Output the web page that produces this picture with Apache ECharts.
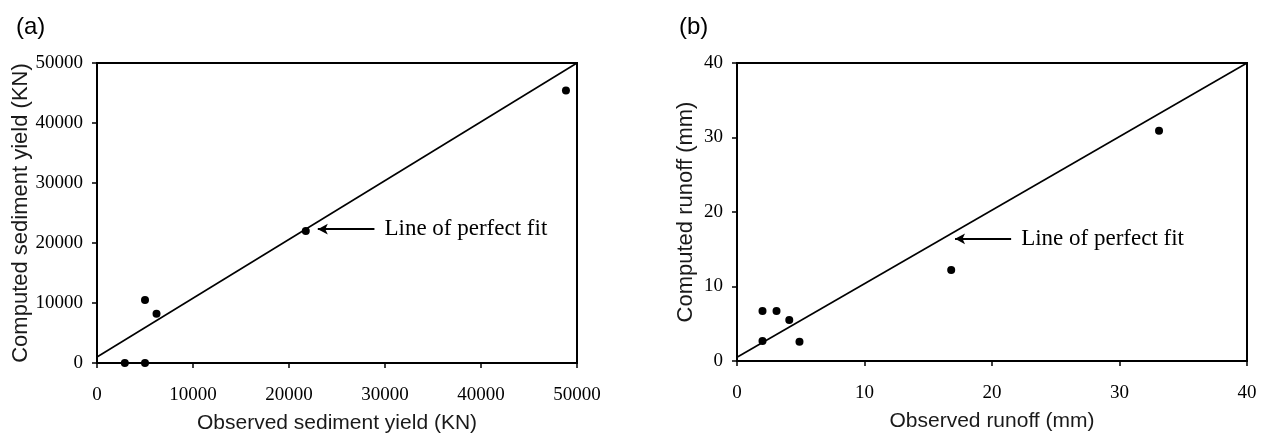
<!DOCTYPE html>
<html>
<head>
<meta charset="utf-8">
<script src="https://cdn.jsdelivr.net/npm/echarts@6/dist/echarts.min.js"></script>
<style>
html,body{margin:0;padding:0;background:#fff;}
#chart{width:1274px;height:444px;}
</style>
</head>
<body>
<div id="chart"></div>
<script>
// Panel (a): sediment yield (KN)
const sedObserved = [2900, 5000, 5000, 6200, 21750, 48850];
const sedComputed = [0, 0, 10500, 8200, 22000, 45400];
const sedFitLine = [[0, 1000], [50000, 50000]];
const sedArrow = {tail: [28900, 22300], tip: [23000, 22300]};

// Panel (b): runoff (mm)
const runObserved = [2.0, 3.1, 4.1, 2.0, 4.9, 16.8, 33.1];
const runComputed = [6.7, 6.7, 5.5, 2.7, 2.6, 12.2, 30.9];
const runFitLine = [[0, 0.5], [40, 40]];
const runArrow = {tail: [21.5, 16.4], tip: [17.1, 16.4]};

const panelTitles = ['(a)', '(b)'];
const xNames = ['Observed sediment yield (KN)', 'Observed runoff (mm)'];
const yNames = ['Computed sediment yield (KN)', 'Computed runoff (mm)'];
const arrowText = 'Line of perfect fit';

const tickFont = {fontFamily: 'Liberation Serif', fontSize: 19, color: '#000', formatter: v => String(v)};
const nameFontX = {fontFamily: 'Liberation Sans', fontSize: 21, color: '#1a1a1a'};
const nameFontY = {fontFamily: 'Liberation Sans', fontSize: 22, color: '#1a1a1a'};

function zip(a, b) { return a.map((v, i) => [v, b[i]]); }

function xAxis(idx, max, interval) {
  return {
    gridIndex: idx, type: 'value', min: 0, max: max, interval: interval,
    name: xNames[idx], nameLocation: 'middle', nameGap: 50, nameTextStyle: nameFontX,
    axisLine: {show: true, onZero: false, lineStyle: {color: '#000', width: 2}},
    axisTick: {show: true, inside: false, length: 5, lineStyle: {color: '#000', width: 1.5}},
    axisLabel: Object.assign({margin: 23}, tickFont),
    splitLine: {show: false}
  };
}
function yAxis(idx, max, interval, gap) {
  return {
    gridIndex: idx, type: 'value', min: 0, max: max, interval: interval,
    name: yNames[idx], nameLocation: 'middle', nameGap: gap, nameTextStyle: nameFontY,
    axisLine: {show: true, onZero: false, lineStyle: {color: '#000', width: 2}},
    axisTick: {show: true, inside: false, length: 5, lineStyle: {color: '#000', width: 1.5}},
    axisLabel: Object.assign({margin: 14}, tickFont),
    splitLine: {show: false}
  };
}
function arrowMark(arrow) {
  return {
    silent: true,
    symbol: ['none', 'arrow'],
    symbolSize: [8, 10],
    lineStyle: {color: '#000', width: 2, type: 'solid'},
    label: {show: true, position: 'start', distance: 10, formatter: arrowText,
            fontFamily: 'Liberation Serif', fontSize: 23, color: '#000'},
    data: [[{coord: arrow.tail}, {coord: arrow.tip}]]
  };
}

const chart = echarts.init(document.getElementById('chart'), null, {renderer: 'canvas'});
chart.setOption({
  backgroundColor: '#fff',
  animation: false,
  title: [
    {text: panelTitles[0], left: 11, top: 10, textStyle: {fontFamily: 'Liberation Sans', fontSize: 24, fontWeight: 'normal', color: '#000'}},
    {text: panelTitles[1], left: 674, top: 10, textStyle: {fontFamily: 'Liberation Sans', fontSize: 24, fontWeight: 'normal', color: '#000'}}
  ],
  grid: [
    {left: 97, right: 1274 - 577, top: 63, bottom: 444 - 363, show: true, borderColor: '#000', borderWidth: 2, containLabel: false},
    {left: 737, right: 1274 - 1247, top: 63, bottom: 444 - 361, show: true, borderColor: '#000', borderWidth: 2, containLabel: false}
  ],
  xAxis: [xAxis(0, 50000, 10000), xAxis(1, 40, 10)],
  yAxis: [yAxis(0, 50000, 10000, 64), yAxis(1, 40, 10, 40)],
  series: [
    {type: 'line', xAxisIndex: 0, yAxisIndex: 0, data: sedFitLine, symbol: 'none',
     lineStyle: {color: '#000', width: 1.6}, markLine: arrowMark(sedArrow)},
    {type: 'scatter', xAxisIndex: 0, yAxisIndex: 0, data: zip(sedObserved, sedComputed),
     symbol: 'circle', symbolSize: 8, itemStyle: {color: '#000', opacity: 1}},
    {type: 'line', xAxisIndex: 1, yAxisIndex: 1, data: runFitLine, symbol: 'none',
     lineStyle: {color: '#000', width: 1.6}, markLine: arrowMark(runArrow)},
    {type: 'scatter', xAxisIndex: 1, yAxisIndex: 1, data: zip(runObserved, runComputed),
     symbol: 'circle', symbolSize: 8, itemStyle: {color: '#000', opacity: 1}}
  ]
});
</script>
</body>
</html>
